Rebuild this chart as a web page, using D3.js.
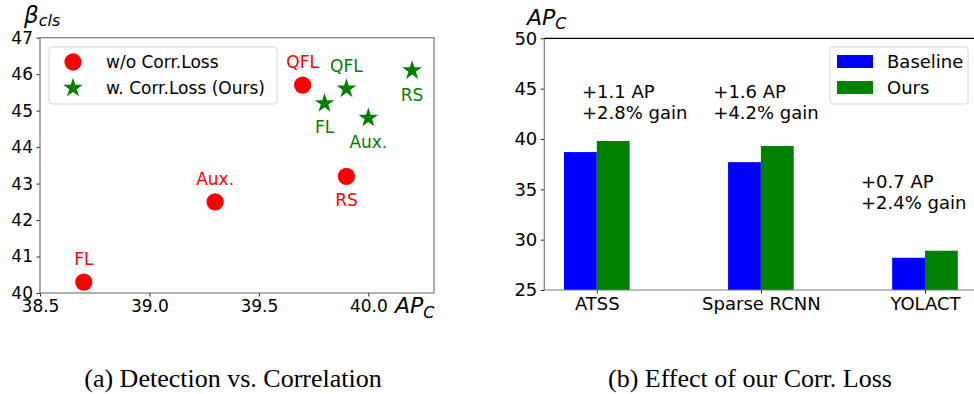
<!DOCTYPE html>
<html>
<head>
<meta charset="utf-8">
<script src="https://cdn.jsdelivr.net/npm/d3@7"></script>
<style>
  body { margin: 0; background: #fff; }
  svg { display: block; font-family: "DejaVu Sans", sans-serif; }
</style>
</head>
<body>
<svg id="chart" width="974" height="394"></svg>
<script>
// left panel: detection AP vs correlation
const methods = ["FL", "Aux.", "QFL", "RS"];
const apBase = [38.7, 39.3, 39.7, 39.9];
const betaBase = [40.3, 42.5, 45.7, 43.2];
const apOurs = [39.8, 40.0, 39.9, 40.2];
const betaOurs = [45.2, 44.8, 45.6, 46.1];
const sideBase = ["above", "above", "above", "below"];
const sideOurs = ["below", "below", "above", "below"];
const xTicksL = [38.5, 39.0, 39.5, 40.0];
const yTicksL = [40, 41, 42, 43, 44, 45, 46, 47];

// right panel: effect of the loss
const detectors = ["ATSS", "Sparse RCNN", "YOLACT"];
const baseline = [38.7, 37.7, 28.2];
const ours = [39.8, 39.3, 28.9];
const gainAP = ["+1.1 AP", "+1.6 AP", "+0.7 AP"];
const gainPct = ["+2.8% gain", "+4.2% gain", "+2.4% gain"];
const yTicksR = [25, 30, 35, 40, 45, 50];

const RED = "#ff0000", GREEN = "#008000", BLUE = "#0000ff";
const SPINE = "#7a7a7a";

const svg = d3.select("#chart");

// ---------- left ----------
const L = {x0: 40, x1: 434, y0: 293, y1: 37.7};
const xL = d3.scaleLinear().domain([38.5, 40.3]).range([L.x0, L.x1]);
const yL = d3.scaleLinear().domain([40, 47]).range([L.y0, L.y1]);
const gl = svg.append("g");

gl.append("g")
    .attr("transform", `translate(0,${L.y0})`)
    .call(d3.axisBottom(xL).tickValues(xTicksL).tickFormat(d3.format(".1f")).tickSize(3.5).tickPadding(3.5))
    .call(g => g.select(".domain").remove());
gl.append("g")
    .attr("transform", `translate(${L.x0},0)`)
    .call(d3.axisLeft(yL).tickValues(yTicksL).tickFormat(d3.format("d")).tickSize(3.5).tickPadding(3.5))
    .call(g => g.select(".domain").remove());
gl.selectAll(".tick text").attr("font-size", 17).attr("fill", "#000").attr("font-family", "DejaVu Sans");
gl.selectAll(".tick line").attr("stroke", "#222");

gl.append("rect")
    .attr("x", L.x0).attr("y", L.y1)
    .attr("width", L.x1 - L.x0).attr("height", L.y0 - L.y1)
    .attr("fill", "none").attr("stroke", SPINE).attr("stroke-width", 1.2);

const circle = d3.symbol().type(d3.symbolCircle).size(235);
const star = d3.symbol().type(d3.symbolStar).size(120);

function pointLabels(ap, beta, side, color) {
    gl.append("g").selectAll("text")
        .data(methods)
        .join("text")
        .attr("x", (d, i) => xL(ap[i]))
        .attr("y", (d, i) => yL(beta[i]) + (side[i] === "above" ? -17 : 30))
        .attr("text-anchor", "middle")
        .attr("font-size", 17)
        .attr("fill", color)
        .text(d => d);
}

gl.append("g").selectAll("path")
    .data(methods)
    .join("path")
    .attr("transform", (d, i) => `translate(${xL(apBase[i])},${yL(betaBase[i])})`)
    .attr("d", circle)
    .attr("fill", RED);
gl.append("g").selectAll("path")
    .data(methods)
    .join("path")
    .attr("transform", (d, i) => `translate(${xL(apOurs[i])},${yL(betaOurs[i])})`)
    .attr("d", star)
    .attr("fill", GREEN);
pointLabels(apBase, betaBase, sideBase, RED);
pointLabels(apOurs, betaOurs, sideOurs, GREEN);

// legend
const lg = gl.append("g");
lg.append("rect")
    .attr("x", 49).attr("y", 47).attr("width", 228).attr("height", 57)
    .attr("rx", 3).attr("fill", "#fff").attr("fill-opacity", 0.8)
    .attr("stroke", "#d6d6d6");
lg.append("path").attr("transform", "translate(73,62)").attr("d", circle).attr("fill", RED);
lg.append("path").attr("transform", "translate(73,88)").attr("d", star).attr("fill", GREEN);
lg.append("text").attr("x", 106).attr("y", 68).attr("font-size", 17).text("w/o Corr.Loss");
lg.append("text").attr("x", 106).attr("y", 94).attr("font-size", 17).text("w. Corr.Loss (Ours)");

// axis labels
gl.append("text").attr("x", 24).attr("y", 23)
    .attr("font-size", 23).attr("font-style", "italic")
    .text("β")
    .append("tspan").attr("dy", 3).attr("font-size", 16).text("cls");
gl.append("text").attr("x", 395).attr("y", 313)
    .attr("font-size", 22).attr("font-style", "italic")
    .text("AP")
    .append("tspan").attr("dy", 5).attr("font-size", 16).text("C");

// ---------- right ----------
const R = {x0: 544.3, y0: 290, y1: 38.3};
const barW = 0.2;
const idx = detectors.map((d, i) => i);
const xR = d3.scaleLinear().domain([-0.32, 2.32]).range([R.x0, 977.5]);
const yR = d3.scaleLinear().domain([25, 50]).range([R.y0, R.y1]);
const gr = svg.append("g");

gr.append("g").selectAll("rect")
    .data(baseline)
    .join("rect")
    .attr("x", (d, i) => xR(i - barW))
    .attr("y", d => yR(d))
    .attr("width", xR(barW) - xR(0))
    .attr("height", d => R.y0 - yR(d))
    .attr("fill", BLUE);
gr.append("g").selectAll("rect")
    .data(ours)
    .join("rect")
    .attr("x", (d, i) => xR(i))
    .attr("y", d => yR(d))
    .attr("width", xR(barW) - xR(0))
    .attr("height", d => R.y0 - yR(d))
    .attr("fill", GREEN);

gr.append("g")
    .attr("transform", `translate(0,${R.y0})`)
    .call(d3.axisBottom(xR).tickValues(idx).tickFormat(i => detectors[i]).tickSize(3.5).tickPadding(3.5))
    .call(g => g.select(".domain").remove());
gr.append("g")
    .attr("transform", `translate(${R.x0},0)`)
    .call(d3.axisLeft(yR).tickValues(yTicksR).tickFormat(d3.format("d")).tickSize(3.5).tickPadding(3.5))
    .call(g => g.select(".domain").remove());
gr.selectAll(".tick text").attr("font-size", 18).attr("fill", "#000").attr("font-family", "DejaVu Sans");
gr.selectAll(".tick line").attr("stroke", "#222");

gr.append("line").attr("x1", R.x0).attr("x2", R.x0).attr("y1", R.y1).attr("y2", R.y0)
    .attr("stroke", SPINE).attr("stroke-width", 1.2);
gr.append("line").attr("x1", R.x0).attr("x2", 974).attr("y1", R.y0).attr("y2", R.y0)
    .attr("stroke", SPINE).attr("stroke-width", 1.2);
gr.append("line").attr("x1", R.x0).attr("x2", 974).attr("y1", R.y1).attr("y2", R.y1)
    .attr("stroke", "#000").attr("stroke-width", 1.2);

// gain notes (anchor in data units)
const noteX = [-0.09, 0.71, 1.61];
const noteY = [44.1, 44.1, 35.1];
const notes = gr.append("g").selectAll("text")
    .data(idx)
    .join("text")
    .attr("x", i => xR(noteX[i]))
    .attr("y", i => yR(noteY[i]))
    .attr("font-size", 18);
notes.append("tspan").text(i => gainAP[i]);
notes.append("tspan").attr("x", i => xR(noteX[i])).attr("dy", 21).text(i => gainPct[i]);

// legend
const rg = gr.append("g");
rg.append("rect")
    .attr("x", 830).attr("y", 47).attr("width", 138).attr("height", 57)
    .attr("rx", 3).attr("fill", "#fff").attr("fill-opacity", 0.8)
    .attr("stroke", "#d6d6d6");
rg.append("rect").attr("x", 837).attr("y", 55).attr("width", 36).attr("height", 13).attr("fill", BLUE);
rg.append("rect").attr("x", 837).attr("y", 81).attr("width", 36).attr("height", 13).attr("fill", GREEN);
rg.append("text").attr("x", 887).attr("y", 68).attr("font-size", 18).text("Baseline");
rg.append("text").attr("x", 887).attr("y", 94).attr("font-size", 18).text("Ours");

gr.append("text").attr("x", 527).attr("y", 25)
    .attr("font-size", 22).attr("font-style", "italic")
    .text("AP")
    .append("tspan").attr("dy", 4).attr("font-size", 16).text("C");

// ---------- captions ----------
svg.append("text").attr("x", 233).attr("y", 387)
    .attr("text-anchor", "middle").attr("font-family", "Liberation Serif")
    .attr("font-size", 26).text("(a) Detection vs. Correlation");
svg.append("text").attr("x", 750).attr("y", 387)
    .attr("text-anchor", "middle").attr("font-family", "Liberation Serif")
    .attr("font-size", 26).text("(b) Effect of our Corr. Loss");
</script>
</body>
</html>
